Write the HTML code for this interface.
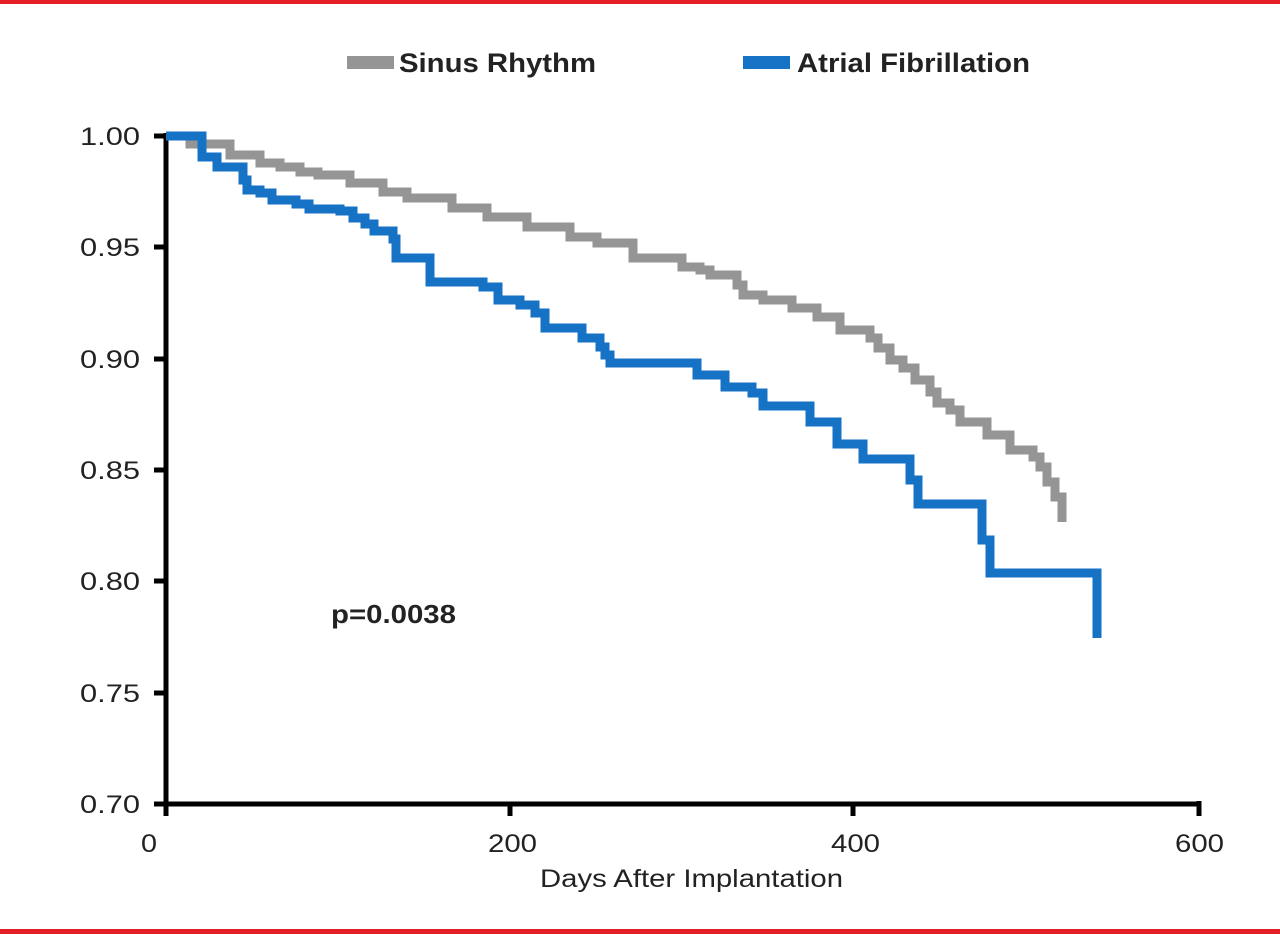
<!DOCTYPE html>
<html><head><meta charset="utf-8"><style>
html,body{margin:0;padding:0;background:#fff;}
svg{display:block;font-family:"Liberation Sans",Arial,sans-serif;}
</style></head><body>
<svg width="1280" height="934" viewBox="0 0 1280 934" xmlns="http://www.w3.org/2000/svg">
<rect x="0" y="0" width="1280" height="4" fill="#e31e25"/>
<rect x="0" y="929" width="1280" height="5" fill="#e31e25"/>
<!-- legend -->
<rect x="347" y="56" width="47" height="13" fill="#959595"/>
<text x="399" y="72" font-size="27" font-weight="bold" fill="#222" textLength="197" lengthAdjust="spacingAndGlyphs">Sinus Rhythm</text>
<rect x="743" y="56" width="47" height="13" fill="#1572c4"/>
<text x="797" y="72" font-size="27" font-weight="bold" fill="#222" textLength="233" lengthAdjust="spacingAndGlyphs">Atrial Fibrillation</text>
<!-- axes -->
<g stroke="#000" stroke-width="5" fill="none">
<line x1="166" y1="133" x2="166" y2="806"/>
<line x1="164" y1="804" x2="1201" y2="804"/>
<line x1="154" y1="136" x2="166" y2="136"/>
<line x1="154" y1="247" x2="166" y2="247"/>
<line x1="154" y1="359" x2="166" y2="359"/>
<line x1="154" y1="470" x2="166" y2="470"/>
<line x1="154" y1="581" x2="166" y2="581"/>
<line x1="154" y1="693" x2="166" y2="693"/>
<line x1="154" y1="804" x2="166" y2="804"/>
<line x1="166" y1="804" x2="166" y2="816"/>
<line x1="510" y1="804" x2="510" y2="816"/>
<line x1="853" y1="804" x2="853" y2="816"/>
<line x1="1199" y1="801" x2="1199" y2="816"/>
</g>
<g font-size="25" fill="#222" text-anchor="end">
<text x="140" y="145" textLength="60" lengthAdjust="spacingAndGlyphs">1.00</text>
<text x="140" y="256" textLength="60" lengthAdjust="spacingAndGlyphs">0.95</text>
<text x="140" y="368" textLength="60" lengthAdjust="spacingAndGlyphs">0.90</text>
<text x="140" y="479" textLength="60" lengthAdjust="spacingAndGlyphs">0.85</text>
<text x="140" y="590" textLength="60" lengthAdjust="spacingAndGlyphs">0.80</text>
<text x="140" y="702" textLength="60" lengthAdjust="spacingAndGlyphs">0.75</text>
<text x="140" y="813" textLength="60" lengthAdjust="spacingAndGlyphs">0.70</text>
</g>
<g font-size="25" fill="#222">
<text x="141" y="852" textLength="16" lengthAdjust="spacingAndGlyphs">0</text>
<text x="488" y="852" textLength="49" lengthAdjust="spacingAndGlyphs">200</text>
<text x="831" y="852" textLength="49" lengthAdjust="spacingAndGlyphs">400</text>
<text x="1175" y="852" textLength="49" lengthAdjust="spacingAndGlyphs">600</text>
<text x="540" y="887" textLength="303" lengthAdjust="spacingAndGlyphs">Days After Implantation</text>
</g>
<text x="331" y="623" font-size="26" font-weight="bold" fill="#222" textLength="125" lengthAdjust="spacingAndGlyphs">p=0.0038</text>
<!-- gray -->
<polyline fill="none" stroke="#959595" stroke-width="9" stroke-linejoin="miter" points="
166,136 190,136 190,144 230,144 230,155 260,155 260,163 280,163 280,167 300,167 300,172 318,172 318,175 350,175 350,183 383,183 383,192 407,192 407,198 452,198 452,208 487,208 487,217 527,217 527,227 570,227 570,237 597,237 597,243 633,243 633,258 682,258 682,267 700,267 700,270 710,270 710,275 737,275 737,285 743,285 743,295 763,295 763,300 792,300 792,308 817,308 817,317 840,317 840,330 870,330 870,338 878,338 878,348 890,348 890,360 903,360 903,368 915,368 915,380 930,380 930,392 937,392 937,403 950,403 950,410 960,410 960,422 987,422 987,435 1010,435 1010,450 1033,450 1033,457 1040,457 1040,467 1047,467 1047,482 1055,482 1055,497 1062,497 1062,522"/>
<!-- blue -->
<polyline fill="none" stroke="#1572c4" stroke-width="9" stroke-linejoin="miter" points="
166,136 202,136 202,157 217,157 217,167 243,167 243,180 247,180 247,190 260,190 260,193 272,193 272,200 296,200 296,204 309,204 309,209 340,209 340,211 353,211 353,218 365,218 365,224 374,224 374,231 393,231 393,239 396,239 396,258 430,258 430,282 483,282 483,287 498,287 498,300 520,300 520,305 535,305 535,313 545,313 545,328 582,328 582,338 600,338 600,347 605,347 605,355 610,355 610,363 697,363 697,375 725,375 725,387 752,387 752,393 763,393 763,406 810,406 810,422 837,422 837,444 863,444 863,459 910,459 910,480 918,480 918,504 982,504 982,540 990,540 990,573 1097,573 1097,638"/>
</svg>
</body></html>
